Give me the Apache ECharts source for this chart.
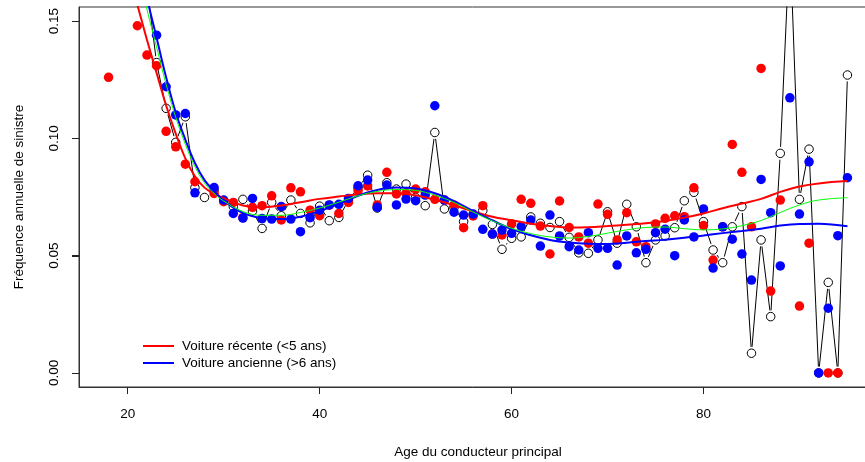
<!DOCTYPE html>
<html>
<head>
<meta charset="utf-8">
<script src="https://cdn.jsdelivr.net/npm/echarts@6/dist/echarts.min.js"></script>
<style>html,body{margin:0;padding:0;background:#fff}#c{width:865px;height:462px}</style>
</head>
<body>
<div id="c"></div>
<script>
// ages 18..95
const ages = [18,19,20,21,22,23,24,25,26,27,28,29,30,31,32,33,34,35,36,37,38,39,40,41,42,43,44,45,46,47,48,49,50,51,52,53,54,55,56,57,58,59,60,61,62,63,64,65,66,67,68,69,70,71,72,73,74,75,76,77,78,79,80,81,82,83,84,85,86,87,88,89,90,91,92,93,94,95];
const recente = [0.126,null,null,0.148,0.1355,0.131,0.103,0.0964,0.089,0.0815,null,0.0765,0.073,0.0727,0.0662,0.0706,0.0713,0.0755,0.0652,0.0789,0.0772,0.0694,0.067,0.0715,0.068,0.0727,0.0777,0.0797,0.0716,0.0855,0.0763,0.0766,0.0784,0.0772,0.074,0.0737,0.0716,0.0619,0.0669,0.0713,0.0592,0.0588,0.0635,0.074,0.0723,0.0626,0.0507,0.0733,0.062,0.058,0.0553,0.072,0.0676,0.0567,0.0683,0.0559,0.0538,0.0635,0.0659,0.067,0.0666,0.0789,0.0628,0.0481,0.0623,0.0974,0.0855,0.0623,0.1298,0.0349,0.0737,null,0.0285,0.0553,null,0,0,null];
const ancienne = [null,null,null,null,null,0.144,0.122,0.110,0.1106,0.0768,null,0.079,0.0737,0.068,0.066,0.0744,0.0658,0.0656,0.0709,0.0656,0.0602,0.0662,0.0694,0.0716,0.0719,0.0744,0.0798,0.0822,0.0706,0.0801,0.0716,0.0741,0.0734,0.0758,0.1139,0.0737,0.0685,0.0673,0.0677,0.0612,0.0592,0.0609,0.0595,0.0624,0.0652,0.0541,0.0673,0.0584,0.0538,0.0524,0.0598,0.0531,0.0531,0.046,0.0584,0.0512,0.0527,0.0598,0.0613,0.050,0.0652,0.058,0.0699,0.0447,0.0623,0.057,0.0507,0.0396,0.0825,0.0683,0.0456,0.1173,0.0677,0.090,0,0.0276,0.0585,0.0832];
const ensemble = [null,null,0.21,0.19,0.165,0.1323,0.1128,0.0983,0.1092,0.079,0.0748,0.0778,0.0735,0.0709,0.074,0.069,0.0616,0.0727,0.067,0.0737,0.068,0.064,0.0711,0.0649,0.0663,0.0735,0.079,0.0843,0.0703,0.0811,0.0784,0.0805,0.0748,0.0713,0.1025,0.0699,0.0705,0.0645,0.0675,0.0692,0.0633,0.0527,0.0574,0.058,0.0665,0.0638,0.062,0.0645,0.0578,0.0512,0.051,0.0567,0.0687,0.0553,0.0719,0.0623,0.047,0.0567,0.0584,0.0619,0.0734,0.077,0.0645,0.0524,0.047,0.0623,0.0709,0.0084,0.0567,0.024,0.0936,0.185,0.074,0.0954,0,0.0386,0,0.127];

// smoothed curves
const curveAges = [18,19,20,21,22,23,24,25,26,27,28,29,30,32,34,36,38,40,42,44,46,48,50,52,54,56,58,60,62,64,66,68,70,72,74,76,78,80,82,84,86,88,90,92,95];
const curveRecente = [0.21,0.19,0.172,0.157,0.142,0.128,0.114,0.102,0.0915,0.0838,0.079,0.0764,0.0745,0.0714,0.0706,0.0714,0.0728,0.0742,0.0752,0.0761,0.0766,0.0766,0.0757,0.0738,0.0715,0.0688,0.0666,0.0651,0.0636,0.0626,0.062,0.0621,0.0626,0.0632,0.0638,0.0648,0.0662,0.068,0.0702,0.0722,0.0742,0.0772,0.0795,0.0808,0.0818];
const curveAncienne = [0.27,0.235,0.205,0.18,0.16,0.143,0.126,0.111,0.0995,0.0895,0.0822,0.0775,0.0735,0.0682,0.066,0.0656,0.0666,0.069,0.0721,0.0755,0.078,0.079,0.0786,0.0766,0.0732,0.069,0.065,0.0613,0.0587,0.0567,0.0556,0.0551,0.055,0.0555,0.0562,0.0568,0.0576,0.0586,0.0596,0.0605,0.0615,0.0628,0.0635,0.0636,0.0625];
const curveEnsemble = [0.25,0.22,0.195,0.173,0.155,0.139,0.123,0.109,0.0975,0.088,0.081,0.0765,0.0733,0.0688,0.0672,0.0672,0.0684,0.0703,0.0728,0.0755,0.0774,0.0782,0.0778,0.0758,0.0727,0.0686,0.0648,0.0617,0.0594,0.058,0.0575,0.0582,0.0596,0.061,0.062,0.0622,0.0615,0.061,0.0614,0.0628,0.065,0.0684,0.0716,0.0737,0.0747];

const xTicks = [20,40,60,80];
const yTicks = [0,0.05,0.10,0.15];

const X_MIN = 14.92, X_MAX = 98.08, Y_MIN = -0.006, Y_MAX = 0.156;

const pairs = (xs, ys) => xs.map((x,i)=>[x, ys[i]]);
const pts = (xs, ys) => xs.map((x,i)=>[x, ys[i]]).filter(p=>p[1]!==null);

const FONT = "'Liberation Sans', Arial, Helvetica, sans-serif";
const chart = echarts.init(document.getElementById('c'), null, {renderer:'canvas'});
chart.setOption({
  animation: false,
  backgroundColor: '#fff',
  textStyle: {fontFamily: FONT},
  grid: {left: 79, top: 7, width: 798, height: 380, show: true, borderColor: '#333', borderWidth: 1,
         backgroundColor: 'transparent', containLabel: false, outerBoundsMode: 'none'},
  xAxis: {
    type: 'value', min: X_MIN, max: X_MAX,
    name: 'Age du conducteur principal', nameLocation: 'middle', nameGap: 58,
    nameTextStyle: {fontSize: 13.5, color: '#000', fontFamily: FONT},
    axisLine: {show: true, onZero: false, lineStyle: {color: '#333', width: 1}},
    axisTick: {show: true, inside: false, length: 7, customValues: xTicks, lineStyle: {color: '#222', width: 1}},
    axisLabel: {customValues: xTicks, margin: 20, fontSize: 13.5, color: '#000', fontFamily: FONT},
    splitLine: {show: false}
  },
  yAxis: {
    type: 'value', min: Y_MIN, max: Y_MAX,
    name: 'Fréquence annuelle de sinistre', nameLocation: 'middle', nameGap: 53, nameRotate: 90,
    nameTextStyle: {fontSize: 13.5, color: '#000', fontFamily: FONT},
    axisLine: {show: true, onZero: false, lineStyle: {color: '#333', width: 1}},
    axisTick: {show: true, inside: false, length: 7, customValues: yTicks, lineStyle: {color: '#222', width: 1}},
    axisLabel: {customValues: yTicks, rotate: 90, margin: 18, fontSize: 13.5, color: '#000', fontFamily: FONT,
      formatter: v => v.toFixed(2)},
    splitLine: {show: false}
  },
  legend: {
    orient: 'vertical', left: 138, top: 334, itemGap: 3, itemWidth: 31, itemHeight: 2,
    icon: 'rect', selectedMode: false,
    textStyle: {fontSize: 13.5, color: '#000', fontFamily: FONT, padding: [0,0,0,3]},
    data: ['Voiture récente (<5 ans)', 'Voiture ancienne (>6 ans)']
  },
  series: [
    {type: 'line', name: 'ensemble-ligne', data: pairs(ages, ensemble), connectNulls: false, clip: true,
     symbol: 'circle', symbolSize: 13, showAllSymbol: true, itemStyle: {color: '#fff', borderWidth: 0, opacity: 1},
     lineStyle: {color: '#000', width: 1}, silent: true, z: 1},
    {type: 'scatter', name: 'ensemble', data: pts(ages, ensemble), clip: true, symbol: 'circle', symbolSize: 8.5,
     itemStyle: {color: 'rgba(0,0,0,0)', borderColor: '#000', borderWidth: 1, opacity: 1}, silent: true, z: 2},
    {type: 'scatter', name: 'recente-pts', data: pts(ages, recente), clip: true, symbol: 'circle', symbolSize: 9.5,
     itemStyle: {color: '#ff0000', opacity: 1}, silent: true, z: 3},
    {type: 'scatter', name: 'ancienne-pts', data: pts(ages, ancienne), clip: true, symbol: 'circle', symbolSize: 9.5,
     itemStyle: {color: '#0000ff', opacity: 1}, silent: true, z: 4},
    {type: 'line', name: 'Voiture récente (<5 ans)', data: pairs(curveAges, curveRecente), smooth: 0.4, clip: true,
     showSymbol: false, symbol: 'none', lineStyle: {color: '#ff0000', width: 2}, itemStyle: {color: '#ff0000'}, z: 5},
    {type: 'line', name: 'Voiture ancienne (>6 ans)', data: pairs(curveAges, curveAncienne), smooth: 0.4, clip: true,
     showSymbol: false, symbol: 'none', lineStyle: {color: '#0000ff', width: 2}, itemStyle: {color: '#0000ff'}, z: 5},
    {type: 'line', name: 'ensemble-courbe', data: pairs(curveAges, curveEnsemble), smooth: 0.4, clip: true,
     showSymbol: false, symbol: 'none', lineStyle: {color: '#00ff00', width: 1}, itemStyle: {color: '#00ff00'}, z: 6},
    {type: 'custom', name: 'y-ticks', silent: true, clip: false, z: 7,
     data: yTicks.map(v => [X_MIN, v]), encode: {x: 0, y: 1},
     renderItem: (params, api) => {
       const p = api.coord([api.value(0), api.value(1)]);
       const y = Math.round(p[1]) + 0.5;
       return {type: 'line', shape: {x1: p[0] - 7, y1: y, x2: p[0], y2: y},
               style: {stroke: '#222', lineWidth: 1}};
     }}
  ]
});
</script>
</body>
</html>
